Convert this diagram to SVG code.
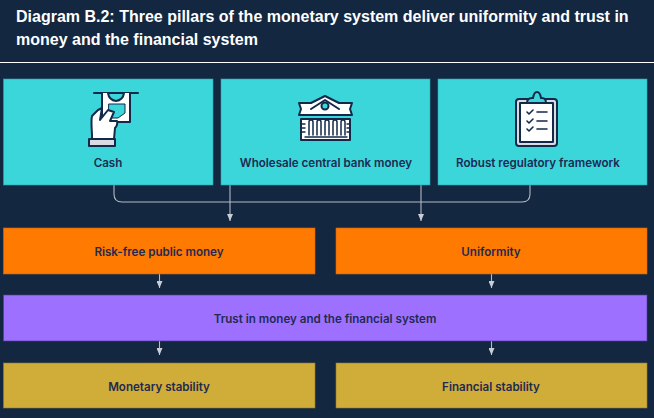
<svg xmlns="http://www.w3.org/2000/svg" width="654" height="418" viewBox="0 0 654 418">
<defs>
<marker id="ah" markerWidth="6" markerHeight="8" refX="3" refY="7" orient="0" markerUnits="userSpaceOnUse" viewBox="0 0 6 8"><path d="M0 0L6 0L3 7Z" fill="#c9ced6"/></marker>
</defs>
<style>
.t{font-family:"Liberation Sans",Arial,sans-serif;font-weight:700;font-size:16px;fill:#fff}
.l{font-family:Inter,Lato,sans-serif;font-weight:600;font-size:11.600px;fill:#1f2a52;text-anchor:middle}
.c{fill:#3ad6da;stroke:#2ba3ad;stroke-width:.6}
.o{fill:#ff7a00;stroke:#c9661a;stroke-width:.6}
.p{fill:#9d70ff;stroke:#4f3f8f;stroke-width:.6}
.g{fill:#d0ac38;stroke:#8f7c3a;stroke-width:.6}
.cn{fill:none;stroke:#b4bac3;stroke-width:1.100}
.i{stroke:#13294a;stroke-width:2;stroke-linejoin:round;stroke-linecap:round}
.w{fill:#fff}.n{fill:none}.h{fill:#3ad6da}.y{fill:#d9dde2}
</style>
<rect width="654" height="418" fill="#132741"/>
<text class="t" x="16" y="22">Diagram B.2: Three pillars of the monetary system deliver uniformity and trust in</text>
<text class="t" x="16" y="45">money and the financial system</text>
<line x1="0" y1="62.500" x2="654" y2="62.500" stroke="#fff" stroke-width="1"/>
<g id="connectors">
<path class="cn" d="M114 185V194Q114 202 122 202H522Q530 202 530 194V185"/>
<path class="cn" d="M230 185V221" marker-end="url(#ah)"/>
<path class="cn" d="M421 185V221" marker-end="url(#ah)"/>
<path class="cn" d="M159.500 274V288" marker-end="url(#ah)"/>
<path class="cn" d="M491.500 274V288" marker-end="url(#ah)"/>
<path class="cn" d="M159.500 341V355" marker-end="url(#ah)"/>
<path class="cn" d="M491.500 341V355" marker-end="url(#ah)"/>
</g>
<g id="cash">
<rect class="c" x="3.500" y="79" width="209.500" height="106"/>
<path class="i n" d="M94 93H138"/>
<path class="i w" d="M102 93V122H130V93"/>
<path class="i" style="fill:#3ad6da" d="M108 93Q109 100 116 101Q123 100 124 93Z"/>
<path class="i" style="fill:#3ad6da;stroke-width:1" d="M109 104H125V113L118 118H109Z"/>
<path class="i w" d="M98 110L92 116Q91 120 92 135L92 139H114L115 128Q118 125 117 121H110L114 112L108 110L100 120L102 108Z"/>
<path class="i y" d="M89 139H115V146H89Z"/>
<text class="l" x="108" y="167">Cash</text>
</g>
<g id="wholesale">
<rect class="c" x="221" y="79" width="209" height="106"/>
<path class="i w" d="M299 103H311L325 96L339 103H352L350 109L352 115H299L301 109Z"/>
<path class="i n" d="M311 109L325 100L339 109"/>
<circle class="i h" cx="325" cy="106" r="3.500"/>
<path class="i w" d="M301 119H350V140H301Z"/>
<path class="i n" d="M309 135V122Q309 120 311 120Q313 120 313 122V135M317 135V122Q317 120 319 120Q321 120 321 122V135M325 135V122Q325 120 327 120Q329 120 329 122V135M333 135V122Q333 120 335 120Q337 120 337 122V135M341 135V122Q341 120 343 120Q345 120 345 122V135" style="stroke-width:1.500"/>
<path class="i n" d="M305 137H347M302 124H305M302 128H305M302 132H305M347 124H350M347 128H350M347 132H350" style="stroke-width:1.400"/>
<text class="l" x="326" y="167">Wholesale central bank money</text>
</g>
<g id="framework">
<rect class="c" x="438" y="79" width="209" height="106"/>
<rect class="i y" x="516" y="99" width="41" height="47" rx="3"/>
<rect class="i w" x="520" y="103" width="33" height="39"/>
<path class="i h" d="M527 103Q527 98 532 98H533Q534 92 537 92Q540 92 541 98H542Q546 98 546 103Z"/>
<path class="i n" d="M527 112L529 114L533 110M527 121L529 123L533 119M527 129L529 131L533 127M537 112H547M537 121H547M537 129H547" style="stroke-width:1.600"/>
<text class="l" x="538" y="167">Robust regulatory framework</text>
</g>
<g id="riskfree"><rect class="o" x="3.500" y="228" width="311.500" height="46"/><text class="l" x="159" y="256">Risk-free public money</text></g>
<g id="uniformity"><rect class="o" x="336" y="228" width="311" height="46"/><text class="l" x="491" y="256">Uniformity</text></g>
<g id="trust"><rect class="p" x="3.500" y="295" width="643.500" height="46"/><text class="l" x="325" y="323">Trust in money and the financial system</text></g>
<g id="monetary"><rect class="g" x="3.500" y="363" width="311.500" height="45"/><text class="l" x="159" y="391">Monetary stability</text></g>
<g id="financial"><rect class="g" x="336" y="363" width="311" height="45"/><text class="l" x="491" y="391">Financial stability</text></g>
</svg>
